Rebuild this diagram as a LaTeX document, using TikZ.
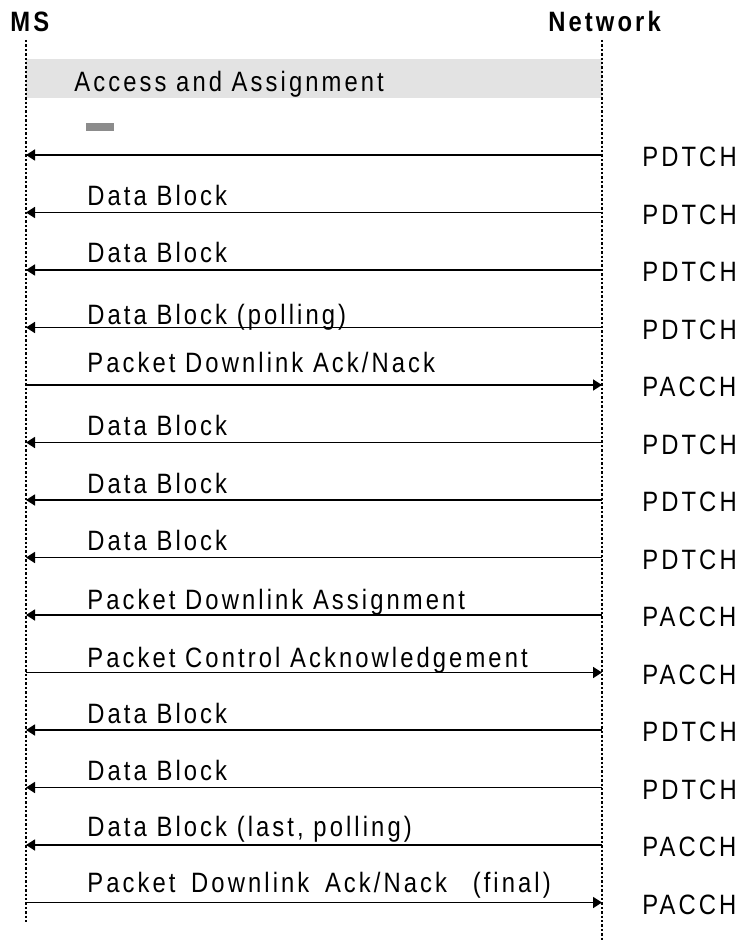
\documentclass[tikz,border=0pt]{standalone}
\usepackage{fontspec}
\setmainfont[FakeStretch=0.85,LetterSpace=11]{Liberation Sans}
\usetikzlibrary{arrows.meta}
\tikzset{
  lifeline/.style={line width=0.65pt, dash pattern=on 1.2pt off 1pt},
  msg/.style={line width=0.85pt, -{Triangle[length=4.5pt,width=5.5pt]}},
  msglabel/.style={anchor=base west, inner sep=0pt, font=\fontsize{14}{16}\selectfont},
  chanlabel/.style={anchor=west, inner sep=0pt, font=\fontsize{14}{16}\selectfont},
  entity/.style={anchor=base west, inner sep=0pt, font=\fontsize{14}{16}\selectfont\bfseries},
}

\begin{document}
\begin{tikzpicture}[x=0.5pt,y=-0.5pt]
  \useasboundingbox (0,0) rectangle (744,940);
  % entities
  \node[entity] (ms) at (10,32) {MS};
  \node[entity] (net) at (548,32) {Network};
  \coordinate (ms-top) at (26,40);
  \coordinate (ms-bot) at (26,922);
  \coordinate (net-top) at (602,40);
  \coordinate (net-bot) at (602,940);
  % access phase
  \fill[black!11] (26,59) rectangle (602,98);
  \node[msglabel] (access) at (74,92) {Access and Assignment};
  \fill[black!45] (86,123) rectangle (114,131);
  % lifelines
  \draw[lifeline] (ms-top) -- (ms-bot);
  \draw[lifeline] (net-top) -- (net-bot);
  % first block, no label
  \coordinate (ms-1) at (26,155);
  \coordinate (net-1) at (602,155);
  \draw[msg] (net-1) -- (ms-1);
  \node[chanlabel] (ch-1) at (642,157) {PDTCH};
  % messages: index / direction (0 = to MS, 1 = to network) / label / channel / label lift
  \foreach \i/\d/\txt/\ch/\off in {
      2/0/{Data Block}/PDTCH/7,
      3/0/{Data Block}/PDTCH/7,
      4/0/{Data Block (polling)}/PDTCH/3,
      5/1/{Packet Downlink Ack/Nack}/PACCH/13,
      6/0/{Data Block}/PDTCH/7,
      7/0/{Data Block}/PDTCH/7,
      8/0/{Data Block}/PDTCH/7,
      9/0/{Packet Downlink Assignment}/PACCH/6,
      10/1/{Packet Control Acknowledgement}/PACCH/5,
      11/0/{Data Block}/PDTCH/7,
      12/0/{Data Block}/PDTCH/7,
      13/0/{Data Block (last, polling)}/PACCH/9,
      14/1/{Packet\hspace{3pt} Downlink\hspace{3pt} Ack/Nack\hspace{8pt} (final)}/PACCH/10} {
    \pgfmathsetmacro{\y}{155+57.5*(\i-1)}
    \coordinate (ms-\i) at (26,\y);
    \coordinate (net-\i) at (602,\y);
    \ifnum\d=0
      \draw[msg] (net-\i) -- (ms-\i);
    \else
      \draw[msg] (ms-\i) -- (net-\i);
    \fi
    \node[msglabel] (lbl-\i) at (87,{\y-\off}) {\txt};
    \node[chanlabel] (ch-\i) at (642,{\y+2}) {\ch};
  }
\end{tikzpicture}
\end{document}
